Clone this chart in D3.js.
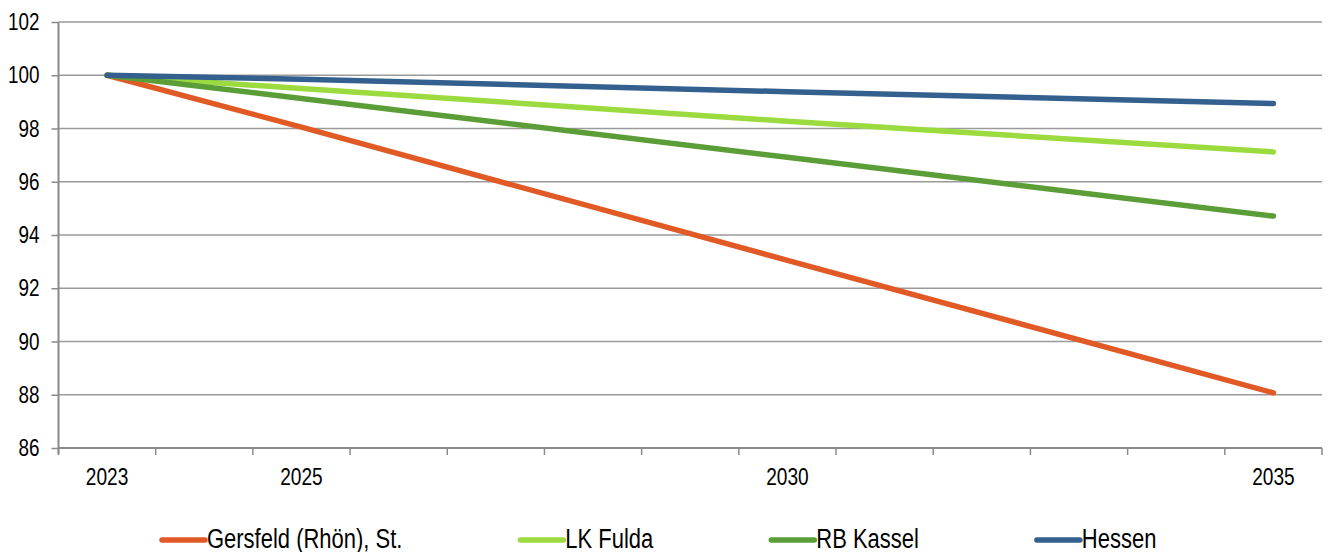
<!DOCTYPE html>
<html>
<head>
<meta charset="utf-8">
<script src="https://cdn.jsdelivr.net/npm/d3@7"></script>
<style>
  html, body { margin: 0; padding: 0; background: #fff; }
  svg { display: block; }
  text { font-family: "Liberation Sans", Arial, sans-serif; fill: #000; }
</style>
</head>
<body>
<svg id="chart" width="1332" height="552"></svg>
<script>
// ---- data ----
const years = [2023, 2024, 2025, 2026, 2027, 2028, 2029, 2030, 2031, 2032, 2033, 2034, 2035];
const xTickLabels = ["2023", "2025", "2030", "2035"];
const yTicks = [86, 88, 90, 92, 94, 96, 98, 100, 102];
const dataYears = [2023, 2025, 2030, 2035];
const seriesNames = ["Gersfeld (Rhön), St.", "LK Fulda", "RB Kassel", "Hessen"];
const gersfeld = [100, 98.05, 93.05, 88.07];
const lkFulda = [100, 99.5, 98.27, 97.12];
const rbKassel = [100, 99.13, 96.92, 94.71];
const hessen = [100, 99.85, 99.38, 98.94];
const seriesColors = ["#E15A26", "#9BDB3F", "#5B9D36", "#34608F"];

const seriesValues = [gersfeld, lkFulda, rbKassel, hessen];

// ---- layout ----
const svg = d3.select("#chart");
const mLeft = 58.5, mRight = 1322, mTop = 22, mBottom = 448;
const NARROW = 0.82;

const x = d3.scaleBand().domain(years).range([mLeft, mRight]).padding(0);
const y = d3.scaleLinear().domain([86, 102]).range([mBottom, mTop]);
const xc = yr => x(yr) + x.bandwidth() / 2;

// narrow text helper (condensed Arial look)
function narrowText(g, tx, ty, str, size, anchor) {
  return g.append("text")
    .attr("transform", `translate(${tx},${ty}) scale(${NARROW},1)`)
    .attr("text-anchor", anchor || "start")
    .attr("font-size", size)
    .text(str);
}

// gridlines
svg.append("g").selectAll("line").data(yTicks.filter(t => t !== 86)).join("line")
  .attr("x1", mLeft).attr("x2", mRight)
  .attr("y1", d => y(d)).attr("y2", d => y(d))
  .attr("stroke", "#9a9a9a").attr("stroke-width", 1.3);

// y axis
const yAxis = svg.append("g").attr("transform", `translate(${mLeft},0)`)
  .call(d3.axisLeft(y).tickValues(yTicks).tickSize(7).tickFormat(""));
yAxis.select(".domain").attr("stroke", "#8a8a8a").attr("stroke-width", 2)
  .attr("d", `M0,${mTop}V${mBottom + 6}`);
yAxis.selectAll(".tick line").attr("stroke", "#8a8a8a").attr("stroke-width", 1.5);
const yLab = svg.append("g");
yTicks.forEach(t => narrowText(yLab, mLeft - 19, y(t) + 8.2, d3.format("d")(t), 23, "end"));

// x axis: ticks at category boundaries
const xAxisG = svg.append("g").attr("transform", `translate(0,${mBottom})`);
xAxisG.append("line").attr("x1", mLeft).attr("x2", mRight).attr("y1", 0).attr("y2", 0)
  .attr("stroke", "#8a8a8a").attr("stroke-width", 2);
const boundaries = years.map(yr => x(yr)).concat([mRight]);
xAxisG.selectAll("line.tk").data(boundaries).join("line").attr("class", "tk")
  .attr("x1", d => d).attr("x2", d => d).attr("y1", 0).attr("y2", 7)
  .attr("stroke", "#8a8a8a").attr("stroke-width", 1.5);
xTickLabels.forEach(lbl => narrowText(xAxisG, xc(+lbl), 37, lbl, 23.3, "middle"));

// lines
const line = d3.line().x((d, i) => xc(dataYears[i])).y(d => y(d));
svg.append("g").selectAll("path").data(seriesValues).join("path")
  .attr("d", d => line(d))
  .attr("fill", "none")
  .attr("stroke", (d, i) => seriesColors[i])
  .attr("stroke-width", 5.5)
  .attr("stroke-linecap", "round")
  .attr("stroke-linejoin", "round");

// legend
const lg = svg.append("g");
let cx = 162;
const ly = 540;
seriesNames.forEach((name, i) => {
  lg.append("line").attr("x1", cx).attr("x2", cx + 43).attr("y1", ly).attr("y2", ly)
    .attr("stroke", seriesColors[i]).attr("stroke-width", 5.5).attr("stroke-linecap", "round");
  const t = narrowText(lg, cx + 45, ly + 8, name, 26.8, "start");
  const w = t.node().getComputedTextLength() * NARROW;
  cx = cx + 45 + w + 118;
});
</script>
</body>
</html>
